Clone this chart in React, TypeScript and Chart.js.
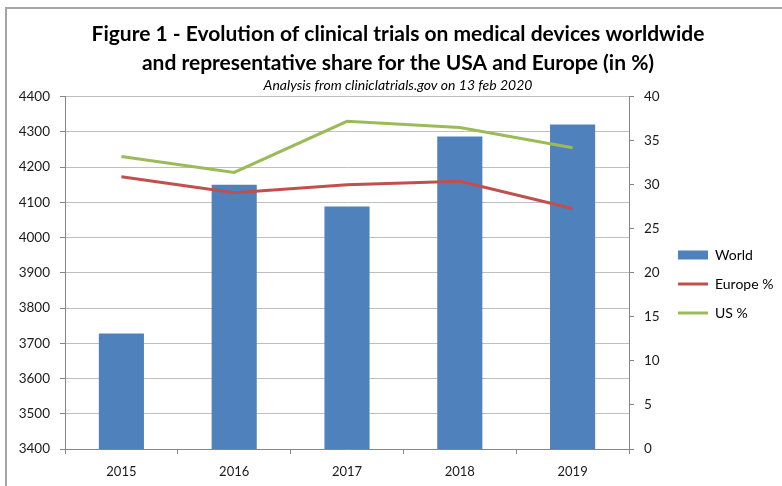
import React, { useEffect, useRef } from "react";
import { Chart, registerables } from "chart.js";

Chart.register(...registerables);

const years = ["2015", "2016", "2017", "2018", "2019"];
const worldTrials = [3728, 4150, 4088, 4287, 4321];
const europeShare = [30.9, 29.1, 30.0, 30.4, 27.3];
const usShare = [33.2, 31.4, 37.2, 36.5, 34.2];

const titleLines = [
  "Figure 1 - Evolution of clinical trials on medical devices worldwide",
  "and representative share for the USA and Europe (in %)",
];
const subtitleText = "Analysis from cliniclatrials.gov on 13 feb 2020";

const FONT = "Lato, 'Liberation Sans', sans-serif";

export default function App() {
  const ref = useRef<HTMLCanvasElement | null>(null);

  useEffect(() => {
    const canvas = ref.current;
    if (!canvas) return;
    document.body.style.margin = "0";
    const chart = new Chart(canvas, {
      type: "bar",
      data: {
        labels: years,
        datasets: [
          {
            type: "bar",
            label: "World",
            data: worldTrials,
            backgroundColor: "#4F81BD",
            borderWidth: 0,
            barPercentage: 0.4,
            categoryPercentage: 1,
            yAxisID: "y",
            order: 3,
            pointStyle: "rect",
          },
          {
            type: "line",
            label: "Europe %",
            data: europeShare,
            borderColor: "#C0504D",
            backgroundColor: "#C0504D",
            borderWidth: 3,
            pointRadius: 0,
            tension: 0,
            yAxisID: "y1",
            order: 1,
            pointStyle: "line",
          },
          {
            type: "line",
            label: "US %",
            data: usShare,
            borderColor: "#9BBB59",
            backgroundColor: "#9BBB59",
            borderWidth: 3,
            pointRadius: 0,
            tension: 0,
            yAxisID: "y1",
            order: 0,
            pointStyle: "line",
          },
        ],
      },
      options: {
        responsive: false,
        maintainAspectRatio: false,
        animation: false,
        layout: { padding: { left: 14, right: 0, top: 0, bottom: 0 } },
        plugins: {
          tooltip: { enabled: false },
          title: {
            display: true,
            text: titleLines,
            color: "#000",
            font: { family: FONT, size: 21, weight: "bold", lineHeight: 1.38 },
            padding: { top: 20, bottom: 0 },
          },
          subtitle: {
            display: true,
            text: subtitleText,
            color: "#000",
            font: { family: FONT, size: 14, style: "italic", lineHeight: 1.05 },
            padding: { top: 0, bottom: 4 },
          },
          legend: {
            display: true,
            position: "right",
            align: "center",
            maxWidth: 119,
            title: {
              display: true,
              text: " ",
              font: { family: FONT, size: 12, lineHeight: 1 },
              padding: { top: 70, bottom: 0 },
            },
            labels: {
              usePointStyle: true,
              pointStyleWidth: 30,
              boxHeight: 9,
              padding: 15,
              color: "#000",
              font: { family: FONT, size: 14 },
              sort: (a: any, b: any) => a.datasetIndex - b.datasetIndex,
            },
          },
        },
        scales: {
          x: {
            offset: true,
            grid: {
              display: true,
              offset: true,
              drawOnChartArea: false,
              drawTicks: true,
              tickLength: 5,
              color: "#868686",
            },
            border: { display: true, color: "#868686" },
            ticks: {
              color: "#1a1a1a",
              padding: 10,
              font: { family: FONT, size: 13 },
            },
            afterFit: (s: any) => {
              s.height = 37;
            },
          },
          y: {
            position: "left",
            min: 3400,
            max: 4400,
            grid: {
              color: "#BFBFBF",
              tickLength: 5,
              tickColor: "#868686",
            },
            border: { display: true, color: "#868686" },
            ticks: {
              stepSize: 100,
              color: "#1a1a1a",
              padding: 10,
              font: { family: FONT, size: 13.5 },
              callback: (v: any) => String(v),
            },
            afterFit: (s: any) => {
              s.width = 51;
            },
          },
          y1: {
            position: "right",
            min: 0,
            max: 40,
            grid: {
              drawOnChartArea: false,
              tickLength: 5,
              color: "#868686",
            },
            border: { display: true, color: "#868686" },
            ticks: {
              stepSize: 5,
              color: "#1a1a1a",
              padding: 10,
              font: { family: FONT, size: 13.5 },
              callback: (v: any) => String(v),
            },
            afterFit: (s: any) => {
              s.width = 34;
            },
          },
        },
      },
    });
    return () => chart.destroy();
  }, []);

  return (
    <div
      style={{
        position: "fixed",
        left: 0,
        top: 0,
        width: 782,
        height: 486,
        background: "#fff",
        overflow: "hidden",
      }}
    >
      <canvas
        ref={ref}
        width={782}
        height={486}
        style={{ position: "absolute", left: 0, top: 0, width: 782, height: 486 }}
      />
      <div
        style={{
          position: "absolute",
          left: 5,
          top: 7,
          width: 820,
          height: 520,
          border: "2px solid #a6a6a6",
          boxSizing: "border-box",
          pointerEvents: "none",
        }}
      />
    </div>
  );
}
